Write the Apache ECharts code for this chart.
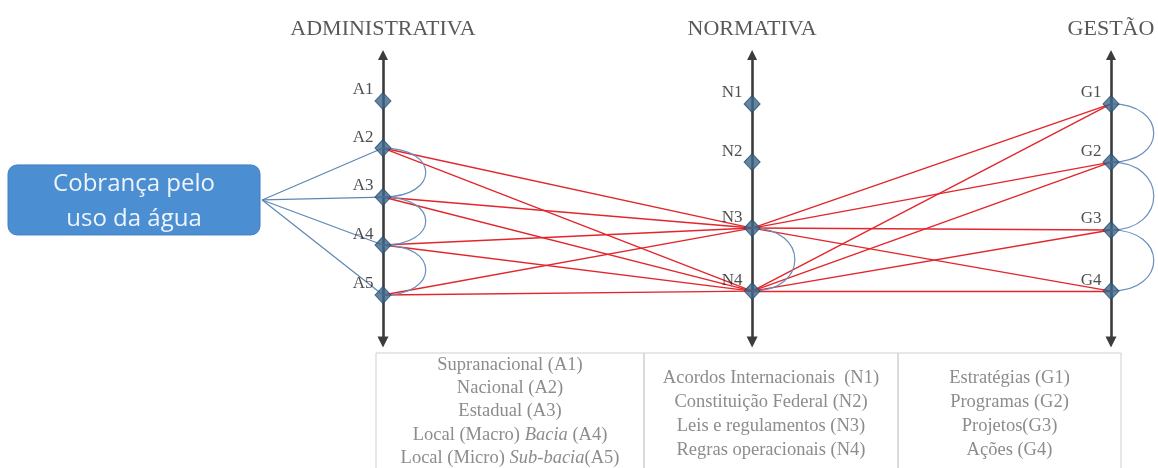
<!DOCTYPE html>
<html><head><meta charset="utf-8">
<script src="https://cdn.jsdelivr.net/npm/echarts@6/dist/echarts.min.js"></script>
<style>html,body{margin:0;padding:0;background:#fff}#c{width:1158px;height:468px}</style>
</head><body><div id="c"></div>
<script>
// ---- data ----
const dimensions = ['ADMINISTRATIVA', 'NORMATIVA', 'GESTÃO'];
const dimX = [0, 1.014, 2];
const adminNodes = ['A1', 'A2', 'A3', 'A4', 'A5'];
const adminLevels = [1, 1.97, 2.98, 3.97, 5];
const normNodes = ['N1', 'N2', 'N3', 'N4'];
const normLevels = [1.06, 2.26, 3.62, 4.92];
const gestNodes = ['G1', 'G2', 'G3', 'G4'];
const gestLevels = [1.06, 2.26, 3.66, 4.92];
const sourceLabel = 'Cobrança pelo\nuso da água';
const sourcePos = [-0.684, 3.04];
const sourceAnchor = [-0.332, 3.04];
const sourceLinks = ['A2', 'A3', 'A4', 'A5'];
const redLinks = [
  ['A2', 'N3'], ['A2', 'N4'], ['A3', 'N3'], ['A3', 'N4'],
  ['A4', 'N3'], ['A4', 'N4'], ['A5', 'N3'], ['A5', 'N4'],
  ['N3', 'G1'], ['N3', 'G2'], ['N3', 'G3'], ['N3', 'G4'],
  ['N4', 'G1'], ['N4', 'G2'], ['N4', 'G3'], ['N4', 'G4']
];
const arcLinks = [['A2', 'A3'], ['A3', 'A4'], ['A4', 'A5'], ['N3', 'N4'], ['G1', 'G2'], ['G2', 'G3'], ['G3', 'G4']];
const axisRange = [0.05, 5.97];
const headerLevel = -0.47;
const tableAdmin = ['Supranacional (A1)', 'Nacional (A2)', 'Estadual (A3)', 'Local (Macro) {i|Bacia} (A4)', 'Local (Micro) {i|Sub-bacia}(A5)'];
const tableNorm = ['Acordos Internacionais  (N1)', 'Constituição Federal (N2)', 'Leis e regulamentos (N3)', 'Regras operacionais (N4)'];
const tableGest = ['Estratégias (G1)', 'Programas (G2)', 'Projetos(G3)', 'Ações (G4)'];

// ---- build ----
const pos = {};
adminNodes.forEach((n, i) => pos[n] = [dimX[0], adminLevels[i]]);
normNodes.forEach((n, i) => pos[n] = [dimX[1], normLevels[i]]);
gestNodes.forEach((n, i) => pos[n] = [dimX[2], gestLevels[i]]);
const nodeData = Object.keys(pos).map(n => ({ name: n, value: pos[n] }));

const serif = 'Liberation Serif';
const chart = echarts.init(document.getElementById('c'));

function tableGraphic() {
  const cols = [[376, 644, tableAdmin, 365, 23.25], [644, 898, tableNorm, 378, 24], [898, 1121, tableGest, 378, 24]];
  const els = [];
  cols.forEach(c => {
    els.push({ type: 'rect', shape: { x: c[0], y: 353, width: c[1] - c[0], height: 140 },
      style: { fill: 'none', stroke: '#cfcfcf', lineWidth: 1 } });
    c[2].forEach((t, i) => {
      els.push({ type: 'text', x: (c[0] + c[1]) / 2, y: c[3] + i * c[4],
        style: { text: t, align: 'center', verticalAlign: 'middle', fontFamily: serif, fontSize: 18.5, fill: '#8c8c8c',
          rich: { i: { fontStyle: 'italic', fontFamily: serif, fontSize: 18.5, fill: '#8c8c8c' } } } });
    });
  });
  return els;
}

chart.setOption({
  animation: false,
  grid: { left: 0, right: 0, top: 0, bottom: 0 },
  xAxis: { type: 'value', min: -1.0522, max: 2.1291, show: false },
  yAxis: { type: 'value', min: -1.0825, max: 8.567, inverse: true, show: false },
  graphic: tableGraphic(),
  series: [
    { type: 'lines', coordinateSystem: 'cartesian2d', z: 1,
      symbol: ['triangle', 'triangle'], symbolSize: [10, 11],
      lineStyle: { color: '#3c3c3c', width: 2.6, opacity: 1 },
      data: dimX.map(x => ({ coords: [[x, axisRange[0]], [x, axisRange[1]]] })) },
    { type: 'lines', coordinateSystem: 'cartesian2d', z: 2,
      lineStyle: { color: '#e2262c', width: 1.4, opacity: 1 },
      data: redLinks.map(l => ({ coords: [pos[l[0]], pos[l[1]]] })) },
    { type: 'lines', coordinateSystem: 'cartesian2d', z: 2,
      lineStyle: { color: '#5d86b2', width: 1.2, opacity: 1 },
      data: sourceLinks.map(n => ({ coords: [sourceAnchor, pos[n]] })) },
    { type: 'custom', coordinateSystem: 'cartesian2d', z: 2,
      encode: { x: 0, y: [1, 2] },
      data: arcLinks.map(l => [pos[l[0]][0], pos[l[0]][1], pos[l[1]][1]]),
      renderItem: (params, api) => {
        const p1 = api.coord([api.value(0), api.value(1)]);
        const p2 = api.coord([api.value(0), api.value(2)]);
        const k = 57;
        return { type: 'bezierCurve',
          shape: { x1: p1[0], y1: p1[1], x2: p2[0], y2: p2[1], cpx1: p1[0] + k, cpy1: p1[1], cpx2: p2[0] + k, cpy2: p2[1] },
          style: { stroke: '#6a8fba', lineWidth: 1.2, fill: 'none' } };
      } },
    { type: 'custom', coordinateSystem: 'cartesian2d', z: 3,
      encode: { x: 0, y: 1 },
      data: [sourcePos],
      renderItem: (params, api) => {
        const c = api.coord([api.value(0), api.value(1)]);
        return { type: 'group', children: [
          { type: 'rect', shape: { x: c[0] - 126, y: c[1] - 35, width: 252, height: 70, r: 9 },
            style: { fill: '#4b8ed1', stroke: '#3f7fc0', lineWidth: 1 } },
          { type: 'text', x: c[0], y: c[1] + 1.5,
            style: { text: sourceLabel, align: 'center', verticalAlign: 'middle', fontFamily: 'Open Sans',
              fontSize: 24, lineHeight: 35, fill: '#eef4fb' } }
        ] };
      } },
    { type: 'scatter', z: 5, symbol: 'diamond', symbolSize: [16, 17],
      itemStyle: { color: '#3b6789', borderColor: '#284a6a', borderWidth: 1 },
      label: { show: true, position: 'left', distance: 1, offset: [0, -11], formatter: '{b}',
        fontFamily: serif, fontSize: 17, color: '#222' },
      data: nodeData },
    { type: 'scatter', z: 5, symbolSize: 0, silent: true,
      label: { show: true, position: 'inside', formatter: '{b}', fontFamily: serif, fontSize: 22, color: '#2e2e2e' },
      data: dimensions.map((d, i) => ({ name: d, value: [dimX[i], headerLevel] })) }
  ]
});
</script></body></html>
